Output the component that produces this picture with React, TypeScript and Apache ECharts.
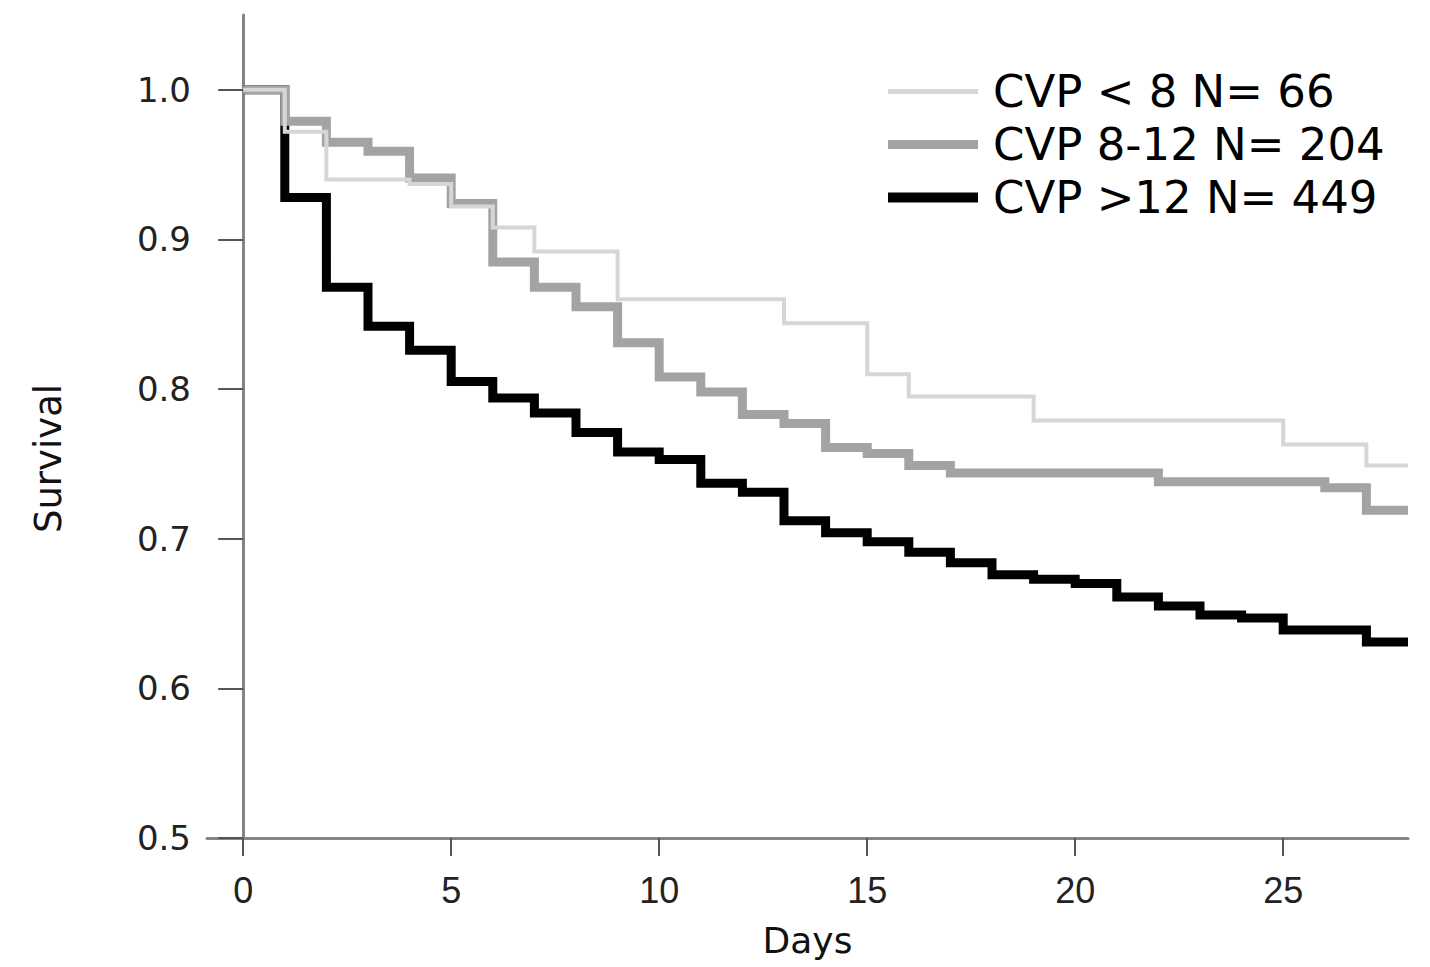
import React, { useEffect, useRef } from "react";
import * as echarts from "echarts";

const days = [0, 1, 2, 3, 4, 5, 6, 7, 8, 9, 10, 11, 12, 13, 14, 15, 16, 17, 18, 19, 20, 21, 22, 23, 24, 25, 26, 27, 28];

const cvpLow = [1.0, 0.972, 0.94, 0.94, 0.937, 0.922, 0.908, 0.892, 0.892, 0.86, 0.86, 0.86, 0.86, 0.844, 0.844, 0.81, 0.795, 0.795, 0.795, 0.779, 0.779, 0.779, 0.779, 0.779, 0.779, 0.763, 0.763, 0.749, 0.749];
const cvpMid = [1.0, 0.979, 0.965, 0.959, 0.941, 0.924, 0.885, 0.868, 0.855, 0.831, 0.808, 0.798, 0.783, 0.777, 0.761, 0.757, 0.749, 0.744, 0.744, 0.744, 0.744, 0.744, 0.738, 0.738, 0.738, 0.738, 0.734, 0.719, 0.719];
const cvpHigh = [1.0, 0.928, 0.868, 0.842, 0.826, 0.805, 0.794, 0.784, 0.771, 0.758, 0.753, 0.737, 0.731, 0.712, 0.704, 0.698, 0.691, 0.684, 0.676, 0.673, 0.67, 0.661, 0.655, 0.649, 0.647, 0.639, 0.639, 0.631, 0.631];

const seriesNames = ["CVP < 8 N= 66", "CVP 8-12 N= 204", "CVP >12 N= 449"];
const xTicks = [0, 5, 10, 15, 20, 25];
const yTicks = [0.5, 0.6, 0.7, 0.8, 0.9, 1.0];

export default function App() {
  const ref = useRef<HTMLDivElement>(null);
  useEffect(() => {
    if (!ref.current) return;
    const chart = echarts.init(ref.current, null, { renderer: "svg" });
    const mk = (vals: number[]) => days.map((d, i) => [d, vals[i]]);
    const axisColor = "#858585";
    chart.setOption({
      animation: false,
      backgroundColor: "#ffffff",
      grid: { left: 207, right: 22, top: 15, bottom: 129, outerBoundsMode: "none", containLabel: false },
      legend: {
        orient: "vertical",
        left: 878,
        top: 64,
        itemWidth: 90,
        itemHeight: 14,
        itemGap: 8,
        data: [
          { name: seriesNames[0], itemStyle: { opacity: 0 }, lineStyle: { width: 5, color: "#d6d6d6" } },
          { name: seriesNames[1], itemStyle: { opacity: 0 }, lineStyle: { width: 9, color: "#a3a3a3" } },
          { name: seriesNames[2], itemStyle: { opacity: 0 }, lineStyle: { width: 10, color: "#000000" } },
        ],
        textStyle: {
          fontFamily: "'DejaVu Sans', sans-serif",
          fontSize: 45,
          lineHeight: 44,
          color: "#000",
          padding: [0, 0, 0, 10],
        },
      },
      xAxis: {
        type: "value",
        min: -0.87,
        max: 28,
        name: "Days",
        nameLocation: "middle",
        nameGap: 84,
        nameTextStyle: { fontFamily: "'DejaVu Sans', sans-serif", fontSize: 36, color: "#111", verticalAlign: "top" },
        splitLine: { show: false },
        axisLine: { lineStyle: { color: axisColor, width: 3 } },
        axisTick: { customValues: xTicks, length: 18, lineStyle: { color: "#555", width: 2 } },
        axisLabel: {
          customValues: xTicks,
          margin: 34,
          fontFamily: "'Liberation Sans', sans-serif",
          fontSize: 36,
          color: "#222",
        },
      },
      yAxis: {
        type: "value",
        min: 0.5,
        max: 1.05,
        name: "Survival",
        nameLocation: "middle",
        nameGap: 140,
        nameRotate: 90,
        nameTextStyle: { fontFamily: "'DejaVu Sans', sans-serif", fontSize: 37, color: "#111", padding: [0, 64, 0, 0] },
        splitLine: { show: false },
        axisLine: { onZero: true, lineStyle: { color: axisColor, width: 3 } },
        axisTick: { customValues: yTicks, length: 25, lineStyle: { color: "#555", width: 2 } },
        axisLabel: {
          customValues: yTicks,
          margin: 16,
          fontFamily: "'DejaVu Sans', sans-serif",
          fontSize: 34,
          color: "#222",
          formatter: (v: number) => v.toFixed(1),
        },
      },
      series: [
        {
          name: seriesNames[2],
          type: "line",
          step: "end",
          symbol: "none",
          data: mk(cvpHigh),
          lineStyle: { color: "#000000", width: 9, join: "miter", cap: "butt" },
          itemStyle: { color: "#000000" },
          z: 2,
        },
        {
          name: seriesNames[1],
          type: "line",
          step: "end",
          symbol: "none",
          data: mk(cvpMid),
          lineStyle: { color: "#a3a3a3", width: 9, join: "miter", cap: "butt" },
          itemStyle: { color: "#a3a3a3" },
          z: 3,
        },
        {
          name: seriesNames[0],
          type: "line",
          step: "end",
          symbol: "none",
          data: mk(cvpLow),
          lineStyle: { color: "#d6d6d6", width: 4, join: "miter", cap: "butt" },
          itemStyle: { color: "#d6d6d6" },
          z: 4,
        },
      ],
    });
    return () => chart.dispose();
  }, []);
  return (
    <div
      ref={ref}
      style={{ position: "absolute", left: 0, top: 0, width: 1430, height: 967 }}
    />
  );
}
